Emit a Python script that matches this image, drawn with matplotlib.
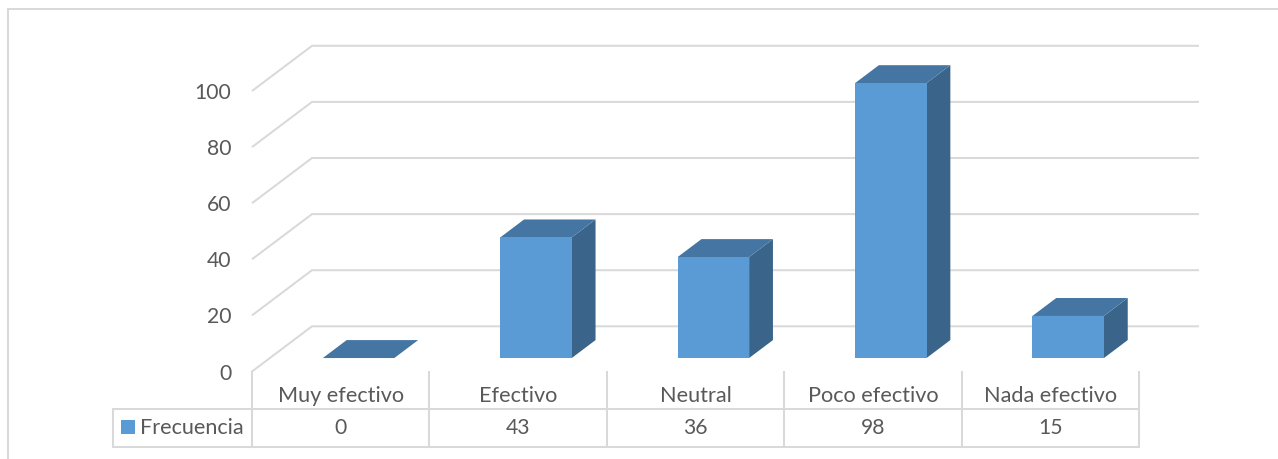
import matplotlib
matplotlib.use("Agg")
import matplotlib.pyplot as plt
from matplotlib.lines import Line2D
from matplotlib.patches import Polygon, Rectangle

categories = ["Muy efectivo", "Efectivo", "Neutral", "Poco efectivo", "Nada efectivo"]
frecuencia = [0, 43, 36, 98, 15]
value_ticks = [0, 20, 40, 60, 80, 100]
series_name = "Frecuencia"

W, H = 1278, 459
FRONT = "#5B9BD5"
TOP = "#4575A2"
SIDE = "#3A6489"
GRID = "#D9D9D9"
TEXT = "#595959"
FS = 15.6
FS_DIGITS = 15.2
LW = 1.45

plt.rcParams["font.family"] = ["Lato", "DejaVu Sans"]

fig = plt.figure(figsize=(W / 100, H / 100), dpi=100)
# Axes rectangle is the front plane of the 3D box
left, right, y0, y100 = 252, 1139, 371.5, 91
ax = fig.add_axes([left / W, 1 - y0 / H, (right - left) / W, (y0 - y100) / H])
ax.set_xlim(0, len(categories))
ax.set_ylim(0, 100)
ax.patch.set_visible(False)
for s in ax.spines.values():
    s.set_visible(False)

# Oblique projection: depth 0 is the front plane, depth 1 the back wall
DEPTH_X = 60 / 177.4
DEPTH_Y = 45.2 / 2.805


def project(x, y, d):
    return x + d * DEPTH_X, y + d * DEPTH_Y


n = len(categories)
for v in value_ticks:
    xs, ys = zip(project(0, v, 0), project(0, v, 1), project(n, v, 1))
    ax.plot(xs, ys, color=GRID, lw=LW, clip_on=False, zorder=1,
            solid_joinstyle="miter", solid_capstyle="butt")

# Bars stand in the middle of the box depth
BAR_W = 0.403
D0, D1 = 0.298, 0.695
for i, v in enumerate(frecuencia):
    xl, xr = i + 0.5 - BAR_W / 2, i + 0.5 + BAR_W / 2
    front = [project(xl, 0, D0), project(xr, 0, D0), project(xr, v, D0), project(xl, v, D0)]
    top = [project(xl, v, D0), project(xr, v, D0), project(xr, v, D1), project(xl, v, D1)]
    side = [project(xr, 0, D0), project(xr, 0, D1), project(xr, v, D1), project(xr, v, D0)]
    ax.add_patch(Polygon(side, fc=SIDE, ec="none", clip_on=False, zorder=3))
    ax.add_patch(Polygon(top, fc=TOP, ec="none", clip_on=False, zorder=3))
    ax.add_patch(Polygon(front, fc=FRONT, ec="none", clip_on=False, zorder=4))

ax.set_yticks(value_ticks)
ax.set_yticklabels([str(v) for v in value_ticks])
ax.set_xticks([i + 0.5 for i in range(n)])
ax.set_xticklabels(categories)
ax.tick_params(axis="y", length=0, pad=15, labelsize=FS_DIGITS, labelcolor=TEXT)
ax.tick_params(axis="x", length=0, pad=10.5, labelsize=FS, labelcolor=TEXT)

# Data table underneath the category axis
PX_Y = 100 / (y0 - y100)
PX_X = n / (right - left)
row_top = -(408.6 - y0) * PX_Y
row_bot = -(447 - y0) * PX_Y
row_mid = (row_top + row_bot) / 2
tab_left = -(left - 113) * PX_X

line_kw = dict(color=GRID, lw=LW, clip_on=False, zorder=1, solid_capstyle="projecting")
for i in range(n + 1):
    ax.plot([i, i], [0, row_bot], **line_kw)
for y in (row_top, row_bot):
    ax.plot([tab_left, n], [y, y], **line_kw)
ax.plot([tab_left, tab_left], [row_top, row_bot], **line_kw)

for i, v in enumerate(frecuencia):
    ax.text(i + 0.5, row_mid, str(v), ha="center", va="center", fontsize=FS_DIGITS,
            color=TEXT, clip_on=False)

ax.add_patch(Rectangle((-(left - 121) * PX_X, -(434 - y0) * PX_Y), 14 * PX_X, 14 * PX_Y,
                       fc=FRONT, ec="none", clip_on=False, zorder=3))
ax.text(-(left - 140) * PX_X, row_mid, series_name, ha="left", va="center",
        fontsize=FS, color=TEXT, clip_on=False)

# Chart frame: only the top and left edges fall inside the canvas
fig.add_artist(Line2D([8 / W, 1], [1 - 9 / H, 1 - 9 / H], color=GRID, lw=LW))
fig.add_artist(Line2D([8 / W, 8 / W], [0, 1 - 9 / H], color=GRID, lw=LW))

fig.savefig("out.png", dpi=100, facecolor="white")
